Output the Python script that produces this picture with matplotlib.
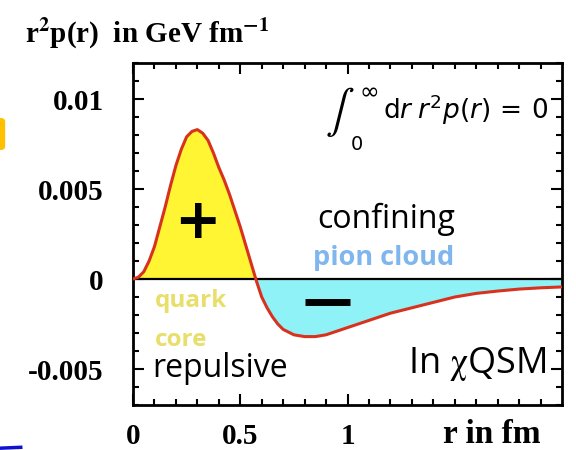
import matplotlib
matplotlib.use("Agg")
import matplotlib.pyplot as plt
from matplotlib.patches import FancyBboxPatch
from matplotlib.lines import Line2D
import numpy as np

# r in fm, r^2 p(r) in GeV/fm
r_fm = [0.0, 0.025, 0.05, 0.075, 0.1, 0.125, 0.15, 0.175, 0.2, 0.225, 0.25,
        0.275, 0.3, 0.325, 0.35, 0.375, 0.4, 0.425, 0.45, 0.475, 0.5, 0.525,
        0.55, 0.575, 0.6, 0.625, 0.65, 0.675, 0.7, 0.75, 0.8, 0.85, 0.9,
        0.95, 1.0, 1.1, 1.2, 1.3, 1.4, 1.5, 1.6, 1.7, 1.8, 1.9, 2.0]
r2p = [0.0, 0.0001, 0.0004, 0.0010, 0.0018, 0.0029, 0.0040, 0.0052, 0.0063,
       0.0072, 0.0079, 0.0082, 0.0083, 0.0081, 0.0077, 0.0070, 0.0062,
       0.0055, 0.0047, 0.0038, 0.0029, 0.0019, 0.0009, -0.0001, -0.0010,
       -0.0016, -0.0021, -0.0025, -0.0028, -0.0031, -0.0032, -0.0032,
       -0.0031, -0.0029, -0.0027, -0.0023, -0.0019, -0.0016, -0.0013,
       -0.0010, -0.0008, -0.00067, -0.00056, -0.00049, -0.00044]
xticks = [0, 0.5, 1]
xtick_labels = ["0", "0.5", "1"]
yticks = [-0.005, 0, 0.005, 0.01]
ytick_labels = ["-0.005", "0", "0.005", "0.01"]

SERIF = "Liberation Serif"
SANS = "Open Sans"
C_LINE = "#d8321e"
C_YELLOW = "#fff533"
C_CYAN = "#8ef2f7"

fig = plt.figure(figsize=(5.76, 4.5), dpi=100)
ax = fig.add_axes([0.2309, 0.10, 0.7448, 0.76])

r = np.array(r_fm)
y = np.array(r2p)
ax.fill_between(r, y, 0, where=y >= 0, color=C_YELLOW, lw=0, interpolate=True)
ax.fill_between(r, y, 0, where=y <= 0, color=C_CYAN, lw=0, interpolate=True)
ax.axhline(0, color="black", lw=1.6, zorder=3)
ax.plot(r, y, color=C_LINE, lw=2.2, zorder=4, solid_capstyle="round",
        solid_joinstyle="round")

ax.set_xlim(0, 2.0)
ax.set_ylim(-0.007, 0.012)
ax.set_xticks(xticks)
ax.set_xticklabels(xtick_labels)
ax.set_yticks(yticks)
ax.set_yticklabels(ytick_labels)
ax.set_xticks(np.arange(0, 2.0, 0.1), minor=True)
ax.set_yticks(np.arange(-0.007, 0.0121, 0.001), minor=True)
ax.tick_params(which="both", direction="in", top=True, right=True, width=1.5,
               color="black")
ax.tick_params(which="major", length=8)
ax.tick_params(axis="y", which="major", pad=21)
ax.tick_params(axis="x", which="major", pad=13)
ax.tick_params(which="minor", length=4.5)
for lab in ax.get_xticklabels() + ax.get_yticklabels():
    lab.set_fontfamily(SERIF)
    lab.set_fontweight("bold")
    lab.set_fontsize(21)
for s in ax.spines.values():
    s.set_linewidth(2.0)

fig.text(0.043, 0.925, r"r$^{\mathbf{2}}$p(r)  in GeV fm$^{\mathbf{-1}}$",
         family=SERIF, fontweight="bold", fontsize=21, ha="left", va="center",
         math_fontfamily="stix")
ax.text(0.837, -0.087, "r in fm", transform=ax.transAxes, family=SERIF,
        fontweight="bold", fontsize=24, ha="center", va="center")

# sum rule: big integral sign with its limits, then the integrand
ax.text(0.965, 0.0093, r"$\int$", fontsize=31, ha="center", va="center",
        math_fontfamily="stixsans")
ax.text(1.10, 0.0105, r"$\infty$", fontsize=17, ha="center", va="center",
        math_fontfamily="dejavusans")
ax.text(1.045, 0.0075, "0", fontsize=14, ha="center", va="center",
        family="DejaVu Sans")
ax.text(1.935, 0.0094, r"$\mathrm{d}r\;r^2p(r)\,=\,0$", fontsize=19,
        ha="right", va="center", math_fontfamily="dejavusans")

ax.text(0.30, 0.0031, "+", fontsize=40, fontweight="bold", ha="center",
        va="center", family="DejaVu Sans")
ax.plot([0.80, 1.01], [-0.00128, -0.00128], color="black", lw=5,
        solid_capstyle="butt", zorder=5)

ax.text(1.18, 0.0033, "confining", family=SANS, fontsize=23, ha="center",
        va="center", color="black")
ax.text(1.17, 0.00117, "pion cloud", family=SANS, fontsize=19.5,
        fontweight="bold", ha="center", va="center", color="#80b6ee")
ax.text(0.10, -0.0012, "quark", family=SANS, fontsize=17.5, fontweight="bold",
        ha="left", va="center", color="#e8df6a")
ax.text(0.10, -0.0034, "core", family=SANS, fontsize=17.5, fontweight="bold",
        ha="left", va="center", color="#e8df6a")
ax.text(0.09, -0.00495, "repulsive", family=SANS, fontsize=23, ha="left",
        va="center", color="black")
ax.text(1.93, -0.0047, r"In $\mathrm{\chi}$QSM", family=SANS, fontsize=26,
        ha="right", va="center", color="black", math_fontfamily="stix")

# slide decorations at the left edge
fig.patches.append(FancyBboxPatch((-0.02, 1 - 150 / 450), 0.029, 32 / 450,
                                  boxstyle="round,pad=0,rounding_size=0.008",
                                  transform=fig.transFigure, facecolor="#ffc000",
                                  edgecolor="none"))
fig.lines.append(Line2D([0.0, 0.036], [0.004, 0.006],
                        transform=fig.transFigure, color="#1010d0", lw=2.5))

fig.savefig("out.png", dpi=100)
